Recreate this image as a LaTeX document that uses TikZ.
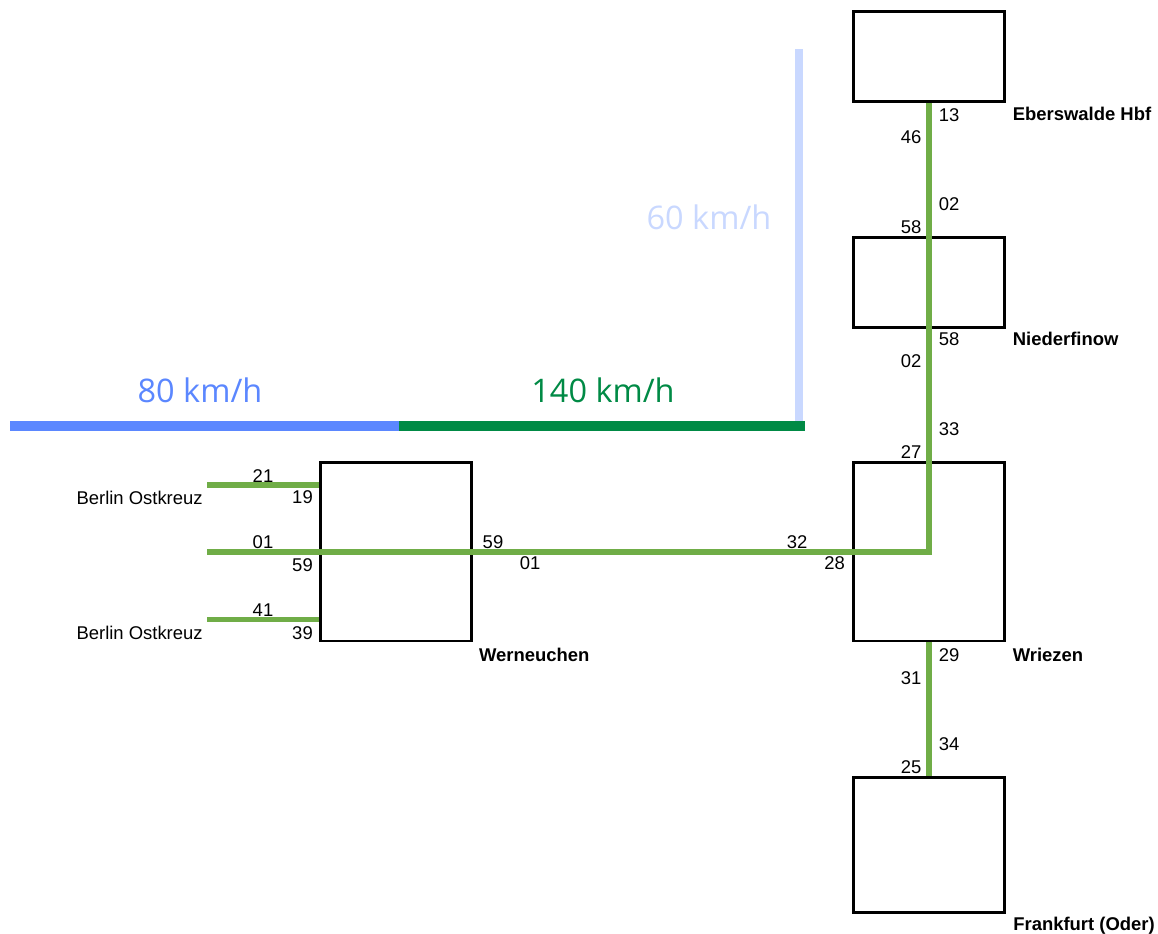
\documentclass[tikz,border=0pt]{standalone}
\usepackage{fontspec}
\setmainfont{Liberation Sans}
\newfontfamily\speedfont{Open Sans}
\usetikzlibrary{positioning}
\definecolor{trkGreen}{RGB}{112,173,71}
\definecolor{spdBlue}{RGB}{91,135,255}
\definecolor{spdGreen}{RGB}{0,138,69}
\definecolor{spdPale}{RGB}{201,216,255}

\begin{document}
\begin{tikzpicture}[x=0.02cm, y=-0.02cm,
  stn/.style={draw=black, line width=1.7pt, minimum width=3.02cm, inner sep=0pt},
  trk/.style={trkGreen, line width=3.4pt},
  num/.style={font=\fontsize{10.5}{12}\selectfont, inner sep=0pt},
  stnname/.style={font=\fontsize{10.5}{12}\selectfont\bfseries, inner sep=0pt},
  spdbar/.style={line width=5.7pt},
  spdlbl/.style={font=\speedfont\fontsize{18.5}{22}\selectfont, inner sep=0pt}]
  \useasboundingbox (0,0) rectangle (1158,933);

  \coordinate (s0) at (10,426);
  \coordinate (s1) at (399,426);
  \coordinate (s2) at (805,426);
  \coordinate (s3) at (799,49);
  \draw[spdbar, spdPale, line width=5.1pt] (s3) -- (s3 |- s2);
  \draw[spdbar, spdBlue] (s0) -- (s1);
  \draw[spdbar, spdGreen] (s1) -- (s2);
  \node[spdlbl, spdBlue] (v80) at (200,390) {80 km/h};
  \node[spdlbl, spdGreen] (v140) at (603,390) {140 km/h};
  \node[spdlbl, spdPale] (v60) at (709,217.5) {60 km/h};

  \node[stn, minimum height=3.57cm] (wern) at (396,551.75) {};
  \node[stn, minimum height=3.58cm] (wriez) at (929,551.5) {};
  \node[stn, minimum height=1.8cm] (eber) at (929,56.5) {};
  \node[stn, minimum height=1.8cm] (nied) at (929,282.5) {};
  \node[stn, minimum height=2.7cm] (frank) at (929,845) {};

  \node[stnname, below right=0.1cm and 0.115cm of wern.south east] (wernname) {Werneuchen};
  \node[stnname, below right=0.1cm and 0.13cm of wriez.south east] (wriezname) {Wriezen};
  \node[stnname, below right=0.07cm and 0.13cm of eber.south east] (ebername) {Eberswalde Hbf};
  \node[stnname, below right=0.06cm and 0.13cm of nied.south east] (niedname) {Niederfinow};
  \node[stnname, below right=0.05cm and 0.14cm of frank.south east] (frankname) {Frankfurt (Oder)};

  \coordinate (b1) at (207,485);
  \coordinate (b0) at (207,552);
  \coordinate (b2) at (207,619.5);
  \draw[trk] (b1) -- (b1 -| wern.west);
  \draw[trk] (b2) -- (b2 -| wern.west);
  \draw[trk] (b0) -- (b0 -| wriez.north) -- (eber.south);
  \draw[trk] (wriez.south) -- (frank.north);

  \node[num, anchor=east] (ost1) at (203,497.5) {Berlin Ostkreuz};
  \node[num, anchor=east] (ost2) at (203,633) {Berlin Ostkreuz};

  \node[num] (w21) at (263,476) {21};
  \node[num] (w19) at (302.5,497.5) {19};
  \node[num] (w01) at (263,542.5) {01};
  \node[num] (w59) at (302.5,565) {59};
  \node[num] (w41) at (263,610) {41};
  \node[num] (w39) at (302.5,633) {39};

  \node[num] (e59) at (493,542) {59};
  \node[num] (e01) at (530,563) {01};
  \node[num] (r32) at (797,542) {32};
  \node[num] (r28) at (834.5,563) {28};

  \node[num] (n13) at (949,115) {13};
  \node[num] (n46) at (911,137) {46};
  \node[num] (n02a) at (949,204) {02};
  \node[num] (n58a) at (911,227.5) {58};
  \node[num] (n58b) at (949,339) {58};
  \node[num] (n02b) at (911,361) {02};
  \node[num] (n33) at (949,429) {33};
  \node[num] (n27) at (911,452) {27};
  \node[num] (n29) at (949,655) {29};
  \node[num] (n31) at (911,678) {31};
  \node[num] (n34) at (949,744) {34};
  \node[num] (n25) at (911,767.5) {25};
\end{tikzpicture}
\end{document}
